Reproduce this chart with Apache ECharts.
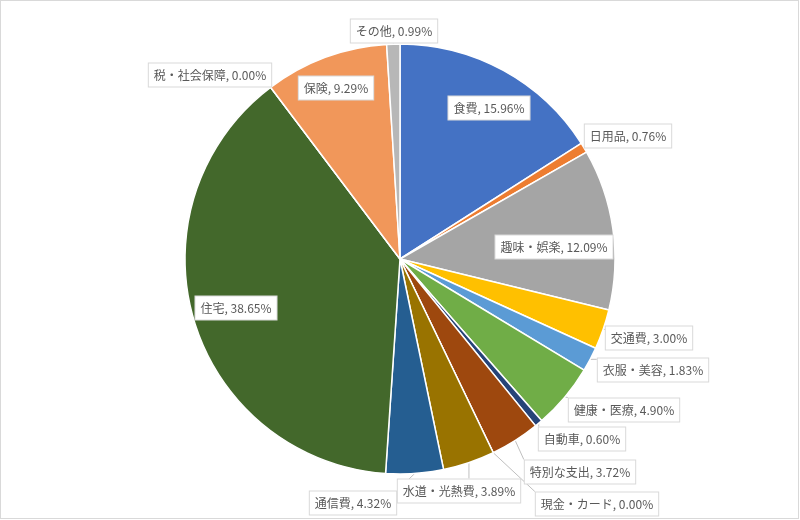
<!DOCTYPE html>
<html>
<head>
<meta charset="utf-8">
<script src="https://cdn.jsdelivr.net/npm/echarts@6/dist/echarts.min.js"></script>
<style>
html,body{margin:0;padding:0;background:#fff;}
#wrap{position:relative;width:800px;height:520px;}
#chart{position:absolute;left:0;top:0;width:800px;height:520px;}
#frame{position:absolute;left:0;top:0;width:799px;height:519px;border:1px solid #d9d9d9;box-sizing:border-box;pointer-events:none;}
</style>
</head>
<body>
<div id="wrap"><div id="chart"></div><div id="frame"></div></div>
<script>
// Data (percent shares), clockwise from 12 o'clock
var categories = ['食費','日用品','趣味・娯楽','交通費','衣服・美容','健康・医療','自動車','特別な支出','現金・カード','水道・光熱費','通信費','住宅','税・社会保障','保険','その他'];
var values = [15.96, 0.76, 12.09, 3.00, 1.83, 4.90, 0.60, 3.72, 0.00, 3.89, 4.32, 38.65, 0.00, 9.29, 0.99];
var colors = ['#4472C4','#ED7D31','#A5A5A5','#FFC000','#5B9BD5','#70AD47','#264478','#9E480E','#636363','#997300','#255E91','#43682B','#698ED0','#F1975A','#B7B7B7'];

// Label box centres (layout only)
var labelPos = [
  [489,108],[628,136],[554,247],[649,338],[653,370],[624,410],[582,439],
  [580,472],[597,504],[459,491],[353,503],[236,308],[210,75],[336,88],[394,31]
];
// Labels drawn inside their slice (callout pointer drawn in white)
var insideLabels = [0, 2, 11, 13];

var seriesData = categories.map(function (c, i) {
  var d = { name: c, value: values[i], itemStyle: { color: colors[i] } };
  if (insideLabels.indexOf(i) >= 0) {
    d.labelLine = { lineStyle: { color: '#ffffff', width: 4 } };
  }
  return d;
});

var chart = echarts.init(document.getElementById('chart'), null, { renderer: 'canvas' });
chart.setOption({
  animation: false,
  backgroundColor: '#ffffff',
  series: [{
    type: 'pie',
    center: [400, 259],
    radius: 215,
    startAngle: 90,
    clockwise: true,
    avoidLabelOverlap: false,
    data: seriesData,
    itemStyle: { borderColor: '#ffffff', borderWidth: 1.5 },
    emphasis: { disabled: true },
    label: {
      show: true,
      position: 'outside',
      formatter: function (p) { return p.name + ', ' + p.value.toFixed(2) + '%'; },
      fontFamily: '"Noto Sans CJK JP", "Noto Sans", sans-serif',
      fontSize: 12,
      color: '#595959',
      backgroundColor: '#ffffff',
      borderColor: '#d9d9d9',
      borderWidth: 1,
      padding: [6, 5, 5, 5]
    },
    labelLine: {
      show: true,
      length: 5,
      length2: 5,
      lineStyle: { color: '#bfbfbf', width: 1 }
    },
    labelLayout: function (p) {
      var pos = labelPos[p.dataIndex];
      var r = p.labelRect;
      var w = r.width, h = r.height;
      var x0 = pos[0] - w / 2, y0 = pos[1] - h / 2;
      var res = { x: pos[0], y: pos[1], align: 'center', verticalAlign: 'middle' };
      var pts = p.labelLinePoints;
      if (pts && pts.length) {
        var a = pts[0];
        var nx = Math.max(x0, Math.min(a[0], x0 + w));
        var ny = Math.max(y0, Math.min(a[1], y0 + h));
        res.labelLinePoints = [[a[0], a[1]], [nx, ny], [nx, ny]];
      }
      return res;
    }
  }]
});
</script>
</body>
</html>
